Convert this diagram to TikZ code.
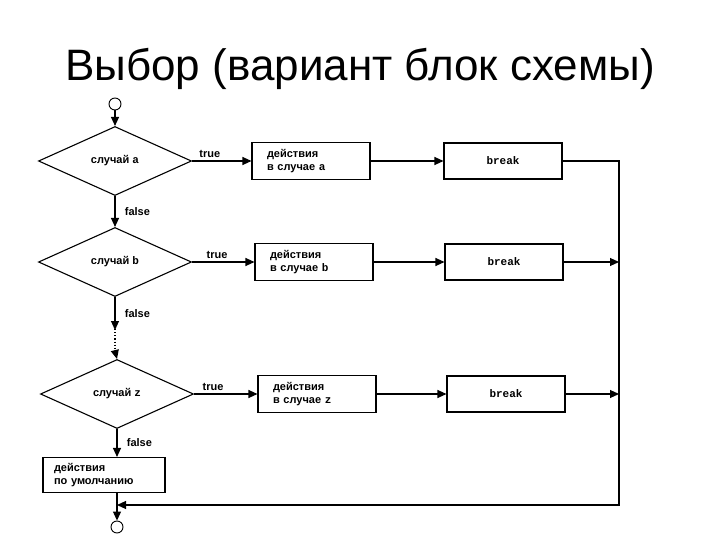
\documentclass[tikz,border=0pt]{standalone}
\usepackage{fontspec}
\setmainfont{Liberation Sans}
\newfontfamily\codefont{Liberation Mono}
\usetikzlibrary{shapes.geometric,arrows.meta}
\newcommand{\code}[1]{{\codefont\bfseries #1}}
\tikzset{
x=1pt, y=-1pt,
>={Triangle[length=9pt,width=8pt]},
every path/.style={line width=1.1pt},
choice/.style={diamond,draw=black,inner sep=0pt,minimum width=153pt,minimum height=69pt,
  font=\bfseries\fontsize{11}{13}\selectfont},
action/.style={rectangle,draw=black,minimum width=118pt,minimum height=37pt,
  text width=88pt,align=left,font=\bfseries\fontsize{11}{13}\selectfont},
brk/.style={rectangle,draw=black,minimum width=118pt,minimum height=36pt,
  font=\codefont\bfseries\fontsize{11}{13}\selectfont},
term/.style={circle,draw=black,line width=0.9pt,minimum size=12pt,inner sep=0pt},
lbl/.style={font=\bfseries\fontsize{11}{13}\selectfont},
}
\begin{document}
\begin{tikzpicture}
\useasboundingbox (0,0) rectangle (720,540);
\node[font=\fontsize{44}{48}\selectfont] (title) at (360,69) {Выбор (вариант блок схемы)};
% column of choices
\node[term] (start) at (115,104) {};
\node[choice] (ca) at (115,161) {случай \code{a}};
\node[choice] (cb) at (115,262) {случай \code{b}};
\node[choice] (cz) at (117,394) {случай \code{z}};
\node[action,minimum width=122pt,minimum height=35pt,text width=100pt] (def) at (104,475) {действия\\по умолчанию};
\node[term] (end) at (117,527) {};
% actions
\node[action] (aa) at (311,161) {действия\\в случае \code{a}};
\node[action] (ab) at (314,262) {действия\\в случае \code{b}};
\node[action] (az) at (317,394) {действия\\в случае \code{z}};
\node[brk] (ba) at (503,161) {break};
\node[brk] (bb) at (504,262) {break};
\node[brk] (bz) at (506,394) {break};
\coordinate (rt) at (619,505);
\coordinate (mg) at (117,505);
\coordinate (dt) at (115,330);
\coordinate (db) at (115,351);
% connectors
\draw[->] (start) -- (ca.north);
\draw[->] (ca.south) -- node[lbl,right=6pt] {false} (cb.north);
\draw[->] (cb.south) -- node[lbl,right=6pt] {false} (dt);
\draw[dotted,line width=2pt] ([yshift=4pt]dt) -- ([yshift=-3pt]db);
\draw[->] (db) -- (cz.north);
\draw[->] (cz.south) -- node[lbl,right=6pt] {false} (cz.south |- def.north);
\draw[->] (ca.east) -- node[lbl,above,pos=0.3] {true} (aa.west);
\draw[->] (cb.east) -- node[lbl,above,pos=0.4] {true} (ab.west);
\draw[->] (cz.east) -- node[lbl,above,pos=0.3] {true} (az.west);
\draw[->] (aa.east) -- (ba.west);
\draw[->] (ab.east) -- (bb.west);
\draw[->] (az.east) -- (bz.west);
\draw[->] (ba.east) -| (rt) -- (mg);
\draw[->] (bb.east) -- (bb.east -| rt);
\draw[->] (bz.east) -- (bz.east -| rt);
\draw[->] (cz.south |- def.south) -- (end.north);
\end{tikzpicture}
\end{document}
